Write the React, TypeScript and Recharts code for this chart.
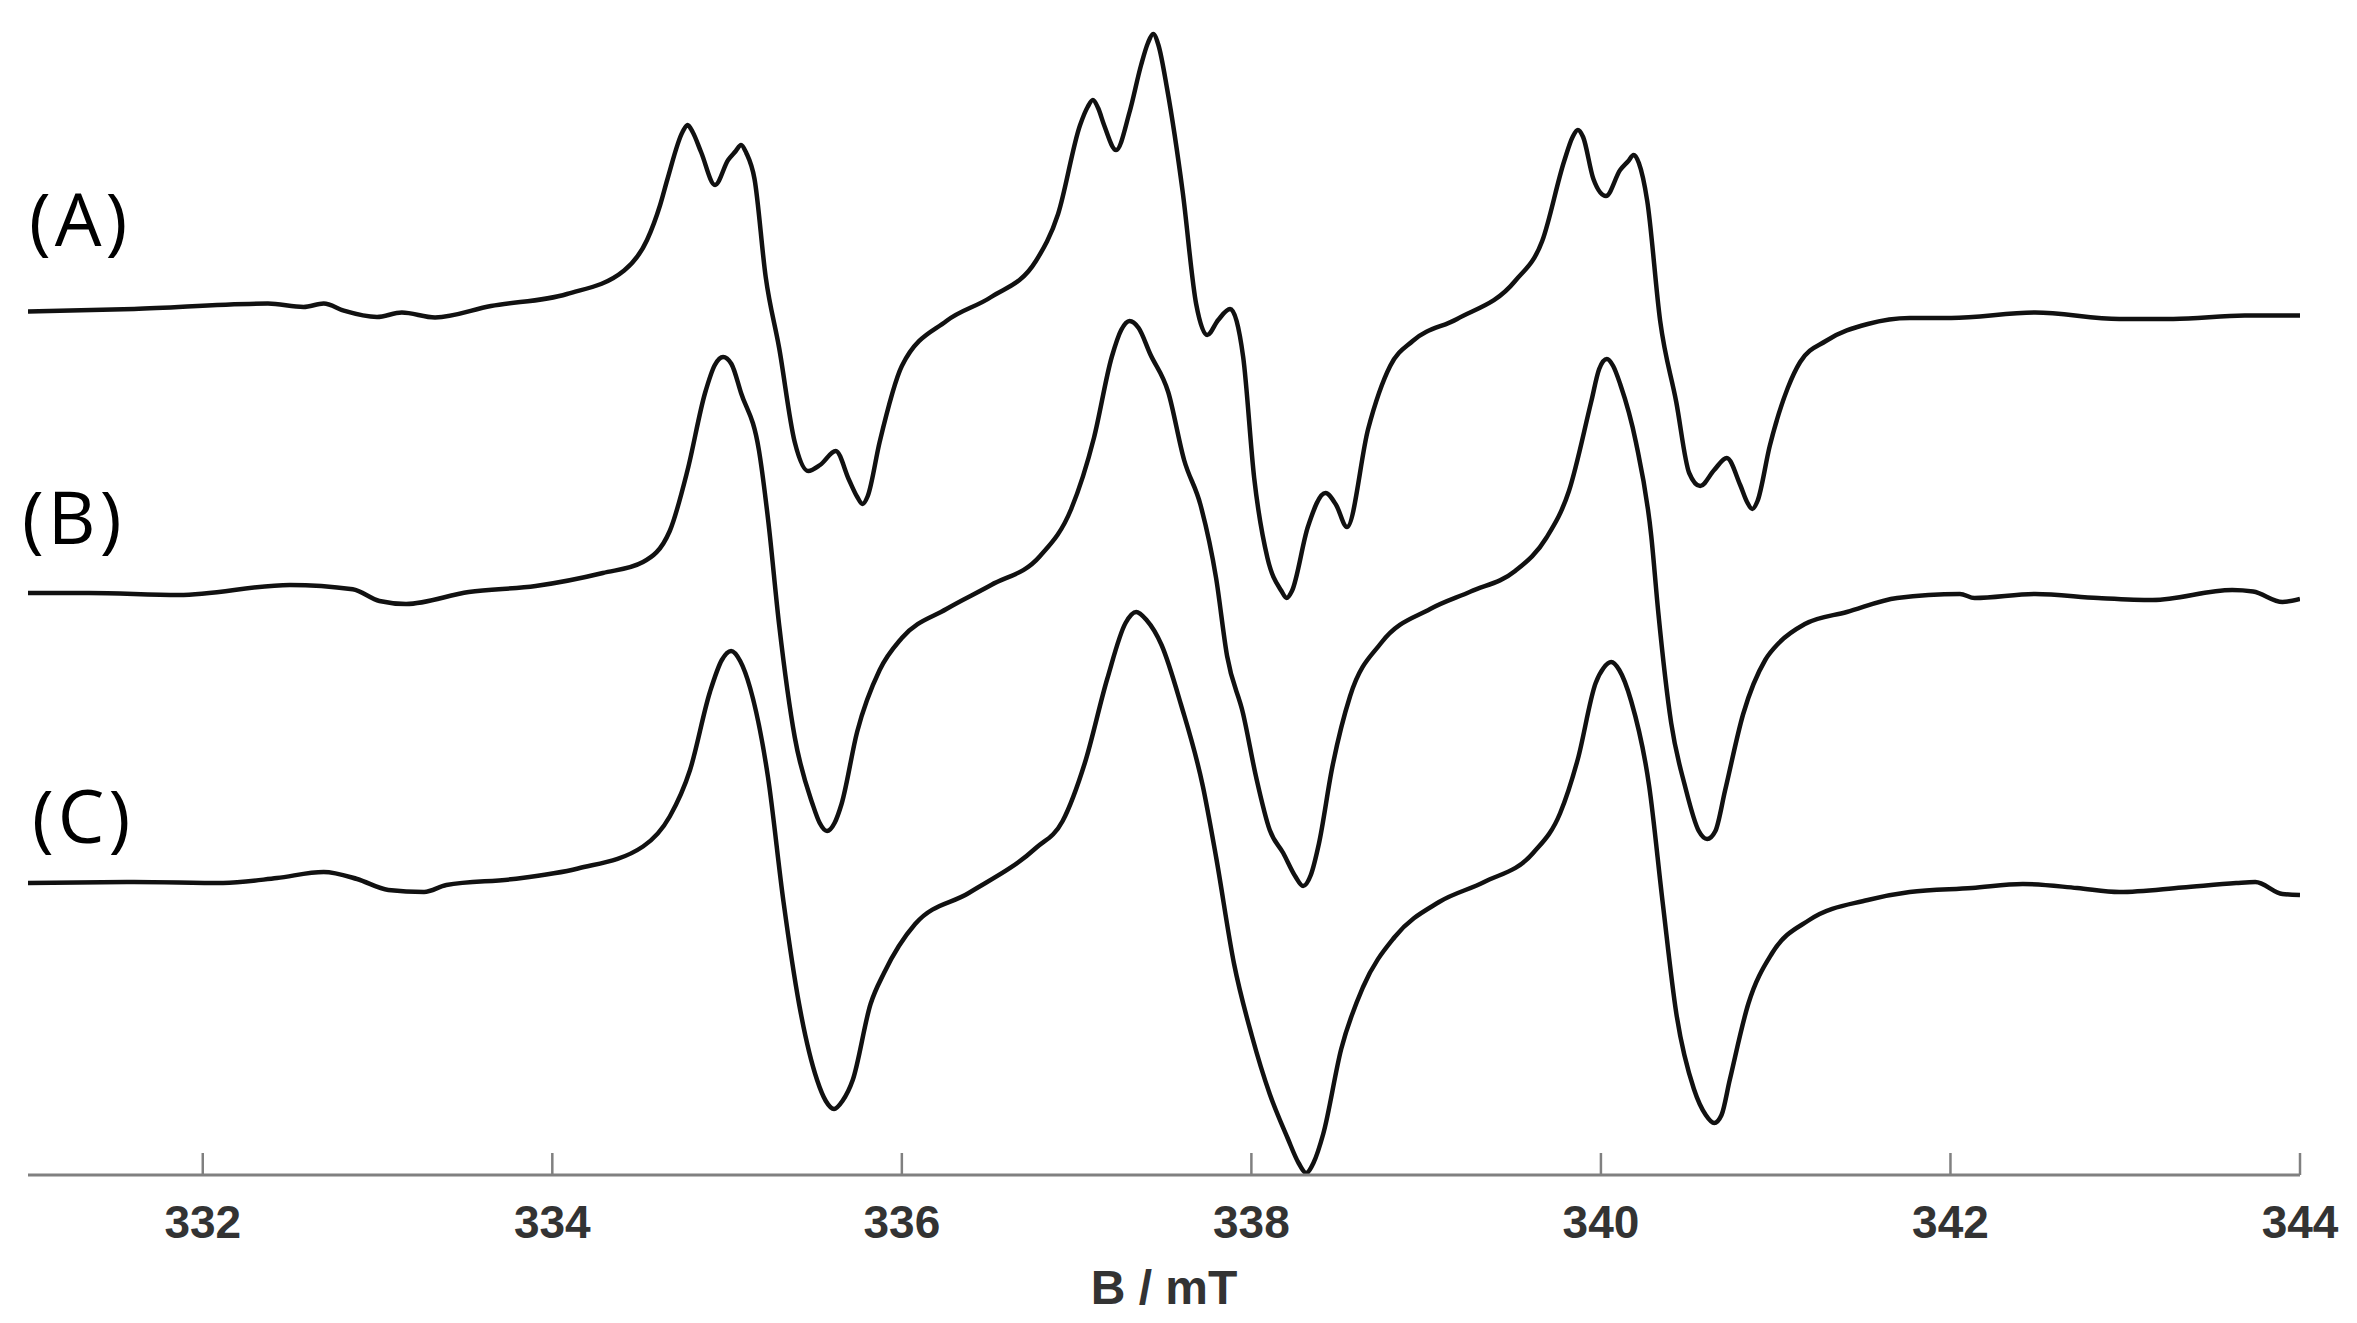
import { LineChart, Line, XAxis, YAxis } from 'recharts'

// ── EPR spectra (A), (B), (C) — [field mT, intensity a.u.] ──

const traceA: [number, number][] = [
  [331.0, -0.5], [331.607, 2], [332.373, 7.4], [332.577, 4], [332.692, 7.4], [332.807, 0.3],
  [332.997, -6], [333.139, -1.5], [333.329, -6.4], [333.649, 5], [334.084, 17], [334.411, 40.5],
  [334.542, 71], [334.617, 106], [334.659, 132], [334.745, 179], [334.774, 186], [334.803, 179],
  [334.851, 159], [334.931, 126], [335.006, 151], [335.05, 160], [335.08, 166], [335.11, 158],
  [335.157, 132], [335.221, 34], [335.298, -37], [335.387, -131], [335.464, -160], [335.532, -154],
  [335.622, -140], [335.698, -169], [335.745, -186], [335.775, -193], [335.805, -185], [335.873, -131],
  [336.0, -55], [336.255, -10], [336.511, 14], [336.767, 50], [336.894, 97], [337.02, 186],
  [337.063, 204], [337.093, 211], [337.123, 203], [337.157, 186], [337.226, 161], [337.303, 199],
  [337.369, 246], [337.408, 268], [337.438, 277], [337.468, 266], [337.518, 222], [337.607, 119],
  [337.684, 7], [337.747, -24], [337.81, -9], [337.878, 2], [337.953, -46], [338.016, -167],
  [338.092, -247], [338.172, -280], [338.202, -287], [338.232, -280], [338.323, -216], [338.424, -182],
  [338.485, -194], [338.547, -216], [338.668, -118], [338.794, -55], [338.923, -30], [339.177, -8],
  [339.509, 30], [339.664, 70], [339.79, 150], [339.838, 174], [339.868, 181], [339.898, 174],
  [339.957, 132], [340.029, 115], [340.11, 141], [340.157, 150], [340.187, 156], [340.217, 148],
  [340.265, 110], [340.339, -10], [340.431, -91], [340.505, -162], [340.568, -175], [340.648, -159],
  [340.72, -147], [340.797, -174], [340.836, -191], [340.866, -198], [340.896, -190], [340.966, -135],
  [341.069, -77], [341.14, -51], [341.287, -30], [341.527, -13], [341.767, -7], [342.004, -7],
  [342.485, -1.5], [342.966, -8], [343.275, -8], [343.684, -4.6], [344.0, -4.6],
]

const traceB: [number, number][] = [
  [331.0, 0], [331.349, 0], [331.862, -2], [332.499, 8], [332.858, 3.7], [333.011, -8],
  [333.163, -11], [333.522, 1], [333.905, 7], [334.289, 20], [334.519, 31], [334.672, 62],
  [334.774, 123], [334.874, 200], [334.93, 228], [334.977, 236], [335.025, 229], [335.08, 200],
  [335.183, 142], [335.235, 73], [335.298, -32], [335.387, -144], [335.489, -211], [335.53, -230],
  [335.572, -238], [335.615, -230], [335.655, -211], [335.744, -139], [335.873, -77], [336.0, -45],
  [336.255, -16], [336.511, 8], [336.791, 37], [336.969, 84], [337.099, 155], [337.201, 236],
  [337.255, 263], [337.303, 272], [337.355, 265], [337.421, 239], [337.524, 201], [337.615, 133],
  [337.709, 88], [337.798, 15], [337.861, -63], [337.953, -121], [338.027, -184], [338.105, -237],
  [338.182, -260], [338.25, -283], [338.296, -293], [338.34, -282], [338.386, -251], [338.462, -175],
  [338.565, -103], [338.742, -50], [339.023, -16], [339.255, 1.5], [339.509, 22], [339.687, 55],
  [339.817, 102], [339.944, 191], [339.99, 224], [340.034, 234], [340.07, 227], [340.11, 209],
  [340.2, 151], [340.288, 57], [340.328, -19], [340.402, -130], [340.481, -193], [340.56, -238],
  [340.608, -246], [340.655, -238], [340.711, -197], [340.814, -121], [340.94, -67], [341.018, -50],
  [341.167, -31], [341.407, -19], [341.695, -5], [342.054, -1], [342.138, -5], [342.485, -1],
  [342.845, -5], [343.157, -7], [343.612, 3], [343.732, 1.5], [343.9, -9], [344.0, -6],
]

const traceC: [number, number][] = [
  [331.0, 0], [331.607, 1], [332.116, 0], [332.424, 5], [332.692, 11], [332.883, 4],
  [333.062, -7], [333.266, -9], [333.394, -2], [333.778, 4], [334.147, 14.5], [334.519, 36.5],
  [334.672, 66.5], [334.788, 113], [334.902, 191], [334.97, 223], [335.023, 232], [335.075, 222],
  [335.132, 195], [335.234, 106], [335.323, -19], [335.412, -121], [335.515, -197], [335.565, -218],
  [335.612, -226], [335.66, -218], [335.719, -197], [335.821, -121], [335.898, -90], [336.076, -41],
  [336.383, -10], [336.767, 35], [336.92, 62], [337.047, 120], [337.175, 204], [337.28, 260],
  [337.341, 271], [337.4, 263], [337.486, 238], [337.598, 178], [337.722, 97], [337.798, 26],
  [337.901, -81], [338.003, -153], [338.105, -211], [338.207, -255], [338.27, -280], [338.313, -290],
  [338.355, -280], [338.411, -251], [338.514, -166], [338.639, -104], [338.82, -54], [339.074, -19],
  [339.332, 1], [339.612, 30], [339.767, 70], [339.868, 124], [339.97, 200], [340.015, 215],
  [340.059, 221], [340.105, 213], [340.173, 182], [340.276, 97], [340.353, -19], [340.431, -130],
  [340.532, -206], [340.6, -232], [340.648, -240], [340.69, -232], [340.737, -197], [340.843, -121],
  [340.98, -70], [341.192, -37], [341.527, -17], [341.767, -9], [342.124, -5], [342.414, -1],
  [342.725, -5], [342.966, -9], [343.325, -4.5], [343.635, 0], [343.744, 1], [343.9, -11],
  [344.0, -12],
]

// vertical stacking offsets of the three traces
const offsets = [864, 582, 292]
const traceLabels = ['(A)', '(B)', '(C)']
const fieldTicks = [332, 334, 336, 338, 340, 342, 344]

const W = 2357
const H = 1323

const series = [traceA, traceB, traceC].map((t, k) =>
  t.map(([b, v]) => ({ b, v: offsets[k] + v }))
)

function FieldTick({ x, y, payload }: any) {
  return (
    <g>
      <line x1={x} x2={x} y1={y} y2={y - 22} stroke="#808080" strokeWidth={2.5} />
      <text
        x={x}
        y={y + 63}
        textAnchor="middle"
        fill="#333"
        fontFamily="'Liberation Sans', Arial, sans-serif"
        fontWeight="bold"
        fontSize={46}
      >
        {payload.value}
      </text>
    </g>
  )
}

export default function App() {
  return (
    <div style={{ position: 'absolute', left: 0, top: 0, width: W, height: H, background: '#fff' }}>
      <LineChart width={W} height={H} margin={{ top: 20, right: 57, left: 28, bottom: 0 }}>
        <XAxis
          dataKey="b"
          type="number"
          domain={[331, 344]}
          ticks={fieldTicks}
          allowDataOverflow
          height={148}
          tickSize={0}
          tickMargin={0}
          tickLine={false}
          axisLine={{ stroke: '#808080', strokeWidth: 3 }}
          tick={<FieldTick />}
          label={{
            content: ({ viewBox }: any) => (
              <text
                x={viewBox.x + viewBox.width / 2}
                y={viewBox.y + 129}
                textAnchor="middle"
                fill="#333"
                fontFamily="'Liberation Sans', Arial, sans-serif"
                fontWeight="bold"
                fontSize={48}
              >
                B / mT
              </text>
            ),
          }}
        />
        <YAxis hide type="number" domain={[0, 1155]} allowDataOverflow />
        {series.map((d, k) => (
          <Line
            key={k}
            data={d}
            name={traceLabels[k]}
            type="monotone"
            dataKey="v"
            stroke="#111"
            strokeWidth={4.5}
            dot={false}
            activeDot={false}
            isAnimationActive={false}
          />
        ))}
      </LineChart>

      <svg width={W} height={H} style={{ position: 'absolute', left: 0, top: 0, pointerEvents: 'none' }}>
        {traceLabels.map((t, i) => (
          <text
            key={t}
            x={[29, 22, 32][i]}
            y={[246, 544, 843][i]}
            fontFamily="'Open Sans', sans-serif"
            fontSize={74}
            letterSpacing={4}
            fill="#000"
          >
            {t}
          </text>
        ))}
      </svg>
    </div>
  )
}
